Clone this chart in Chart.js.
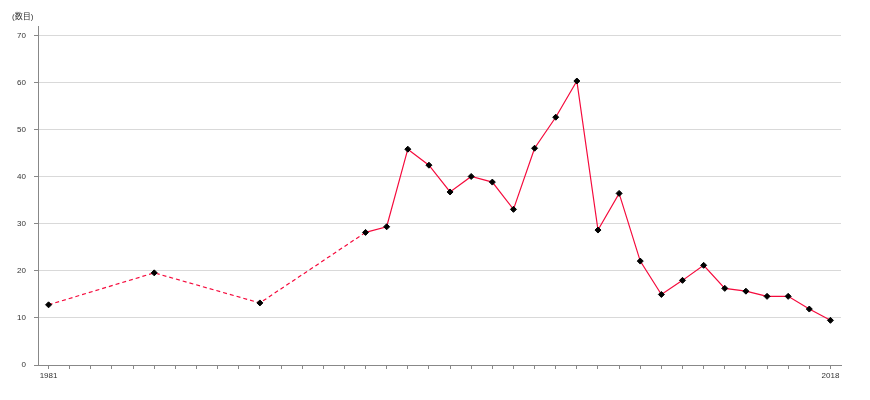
<!DOCTYPE html>
<html>
<head>
<meta charset="utf-8">
<script src="https://cdn.jsdelivr.net/npm/chart.js@4"></script>
<style>
  html, body { margin: 0; padding: 0; background: #fff; }
  #wrap { width: 870px; height: 400px; }
</style>
</head>
<body>
<div id="wrap"><canvas id="myLineChart"></canvas></div>
<script>
// years and values
const years = [1981, 1986, 1991, 1996, 1997, 1998, 1999, 2000, 2001, 2002, 2003, 2004, 2005,
    2006, 2007, 2008, 2009, 2010, 2011, 2012, 2013, 2014, 2015, 2016, 2017, 2018];
const counts = [12.8, 19.6, 13.2, 28.2, 29.4, 45.9, 42.5, 36.8, 40.1, 38.9, 33.1, 46.1, 52.7,
    60.4, 28.7, 36.5, 22.1, 15.0, 18.0, 21.2, 16.3, 15.7, 14.6, 14.6, 11.9, 9.5];
const xLabels = [1981, 2018];
const unitLabel = '(数目)';
const dashedUntil = 1996;

const fontFamily = '"Liberation Sans", "Noto Sans CJK JP", sans-serif';

const unitPlugin = {
    id: 'unitLabel',
    afterDraw(chart) {
        const c = chart.ctx;
        c.save();
        c.font = '8px ' + fontFamily;
        c.fillStyle = '#333';
        c.textBaseline = 'middle';
        c.fillText(unitLabel, 12, 17);
        c.restore();
    }
};

// one tick per whole year / whole step inside the axis range
const wholeTicks = (step) => (axis) => {
    const out = [];
    for (let v = Math.ceil(axis.min / step) * step; v <= axis.max; v += step) {
        out.push({ value: v });
    }
    axis.ticks = out;
};

const ctx = document.getElementById('myLineChart').getContext('2d');

const config = {
    type: 'line',
    data: {
        datasets: [{
            data: years.map((y, i) => ({ x: y, y: counts[i] })),
            borderColor: '#f50a3c',
            borderWidth: 1.2,
            pointStyle: 'rectRot',
            pointRadius: 3,
            pointBackgroundColor: '#000',
            pointBorderColor: '#000',
            pointBorderWidth: 1,
            segment: {
                borderDash: (s) => s.p1.parsed.x <= dashedUntil ? [4, 3] : undefined
            }
        }]
    },
    options: {
        responsive: true,
        maintainAspectRatio: false,
        animation: false,
        layout: { padding: { top: 26, left: 10, right: 29, bottom: 0 } },
        plugins: {
            legend: { display: false },
            tooltip: { enabled: false }
        },
        scales: {
            x: {
                type: 'linear',
                min: 1980.5,
                max: 2018.5,
                afterBuildTicks: wholeTicks(1),
                afterFit: (s) => { s.height = 35; },
                ticks: {
                    autoSkip: false,
                    maxRotation: 0,
                    padding: 2,
                    color: '#333',
                    font: { family: fontFamily, size: 8 },
                    callback: (v) => xLabels.includes(v) ? String(v) : ''
                },
                grid: { drawOnChartArea: false, tickLength: 4, tickColor: '#888' },
                border: { color: '#888' }
            },
            y: {
                min: 0,
                max: 72.1,
                afterBuildTicks: wholeTicks(10),
                afterFit: (s) => { s.width = 28; },
                ticks: {
                    padding: 8,
                    color: '#333',
                    font: { family: fontFamily, size: 8 }
                },
                grid: { color: '#d9d9d9', tickLength: 4, tickColor: '#888' },
                border: { color: '#888' }
            }
        }
    },
    plugins: [unitPlugin]
};

const myLineChart = new Chart(ctx, config);
</script>
</body>
</html>
